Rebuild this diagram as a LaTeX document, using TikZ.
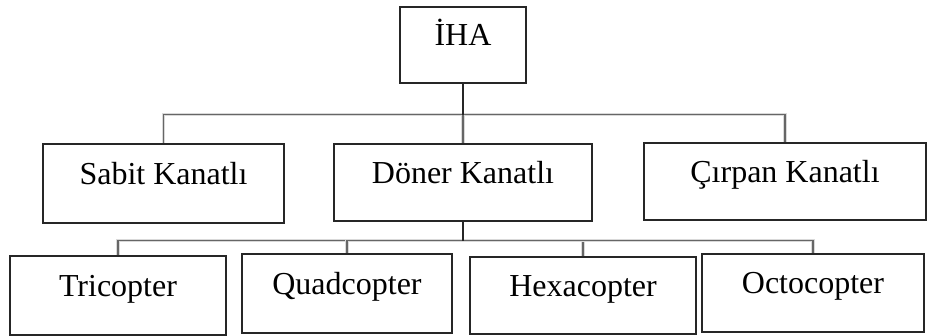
\documentclass[tikz,border=0pt]{standalone}
\usepackage{fontspec}
\setmainfont{Liberation Serif}
\usetikzlibrary{positioning, calc}
\tikzset{
 kutu/.style={draw=black!85, line width=1.1pt, rectangle, inner sep=0pt, text height=22pt, text depth=20pt, font=\fontsize{32}{36}\selectfont},
 hat/.style={draw=black!60, line width=1.6pt, preaction={draw=black!15, line width=3.5pt}},
 govde/.style={draw=black!85, line width=2.2pt}
}
\begin{document}
\begin{tikzpicture}[x=1pt, y=-1pt]
 \useasboundingbox (0,0) rectangle (928,336);
 \node[kutu, minimum width=126pt, minimum height=76pt] (iha) at (463,45) {İHA};
 \node[kutu, minimum width=241pt, minimum height=79pt] (sabit) at (163.5,183.5) {Sabit Kanatlı};
 \node[kutu, minimum width=258pt, minimum height=77pt] (doner) at (463,182.5) {Döner Kanatlı};
 \node[kutu, minimum width=282pt, minimum height=77pt] (cirpan) at (785,181.5) {Çırpan Kanatlı};
 \node[kutu, minimum width=216pt, minimum height=79pt] (tri) at (118,295.5) {Tricopter};
 \node[kutu, minimum width=210pt, minimum height=79pt] (quad) at (347,293.5) {Quadcopter};
 \node[kutu, minimum width=226pt, minimum height=77pt] (hexa) at (583,295.5) {Hexacopter};
 \node[kutu, minimum width=222pt, minimum height=78pt] (octo) at (813,293) {Octocopter};

 % ust seviye
 \coordinate (b1) at ($(iha.south)+(0,31)$);
 \draw[hat] (b1) -| (sabit.north);
 \draw[hat] (b1) -| (cirpan.north);
 \draw[hat] (b1) -- (b1-|doner.north) -- (doner.north);
 \draw[govde] (iha.south) -- (b1);

 % alt seviye
 \coordinate (b2) at ($(doner.south)+(0,19)$);
 \draw[hat] (b2) -| (tri.north);
 \draw[hat] (b2) -| (quad.north);
 \draw[hat] (b2) -| (hexa.north);
 \draw[hat] (b2) -| (octo.north);
 \draw[govde] (doner.south) -- (b2);
\end{tikzpicture}
\end{document}
